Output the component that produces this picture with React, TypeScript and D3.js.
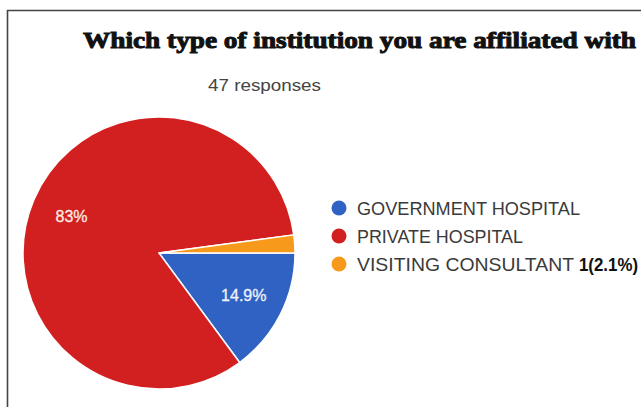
import React from "react";
import * as d3 from "d3";

const categories = ["GOVERNMENT HOSPITAL", "PRIVATE HOSPITAL", "VISITING CONSULTANT"];
const counts = [7, 39, 1];
const sliceLabels = ["14.9%", "83%", ""];
const colors = ["#2f62c2", "#d21f1f", "#f79a1c"];
const legendNote = ["", "", "1(2.1%)"];
const title = "Which type of institution you are affiliated with";
const subtitle = "47 responses";

const W = 641;
const H = 407;
// measured rendered widths of legend texts in the reference (layout only)
const LEGEND_TEXT_WIDTHS = [223, 166, 217];

export default function App() {
  const cx = 159;
  const cy = 253;
  const R = 136;
  const pie = d3
    .pie<number>()
    .sort(null)
    .value((d) => d)
    .startAngle(Math.PI / 2)
    .endAngle(Math.PI / 2 + 2 * Math.PI);
  const arcs = pie(counts);
  const arc = d3.arc<d3.PieArcDatum<number>>().innerRadius(0).outerRadius(R);
  const labelArc = d3.arc<d3.PieArcDatum<number>>().innerRadius(95).outerRadius(95);
  const legendY = d3.scalePoint<string>().domain(categories).range([208, 264]);

  return (
    <svg
      width={W}
      height={H}
      style={{ position: "absolute", left: 0, top: 0, background: "#fff" }}
    >
      <rect x={0} y={0} width={W} height={H} fill="#fff" />
      <path d={`M7.5,${H} V10.5 H${W}`} fill="none" stroke="#444" strokeWidth={1.6} />
      <text
        x={83}
        y={48}
        textLength={553}
        lengthAdjust="spacingAndGlyphs"
        fontFamily="'Liberation Serif', 'Times New Roman', serif"
        fontWeight="bold"
        fontSize={24}
        fill="#111"
        stroke="#111"
        strokeWidth={1}
      >
        {title}
      </text>
      <text
        x={208}
        y={91}
        textLength={113}
        lengthAdjust="spacingAndGlyphs"
        fontFamily="'Liberation Sans', Arial, sans-serif"
        fontSize={16}
        fill="#444"
      >
        {subtitle}
      </text>
      <g transform={`translate(${cx},${cy})`}>
        {arcs.map((a, i) => (
          <path key={i} d={arc(a) || ""} fill={colors[i]} stroke="#fff" strokeWidth={1.5} strokeLinejoin="round" />
        ))}
        {arcs.map((a, i) => {
          const [lx, ly] = labelArc.centroid(a);
          return sliceLabels[i] ? (
            <text
              key={"l" + i}
              x={lx}
              y={ly}
              dy="0.35em"
              textAnchor="middle"
              fontFamily="'Liberation Sans', Arial, sans-serif"
              fontSize={16}
              fill={i === 1 ? "#fdebe2" : "#eef2fb"}
              stroke={i === 1 ? "#fdebe2" : "#eef2fb"}
              strokeWidth={0.3}
            >
              {sliceLabels[i]}
            </text>
          ) : null;
        })}
      </g>
      {categories.map((c, i) => {
        const y = legendY(c) as number;
        return (
          <g key={c}>
            <circle cx={339} cy={y} r={7.5} fill={colors[i]} />
            <text
              x={357}
              y={y + 6.5}
              textLength={LEGEND_TEXT_WIDTHS[i]}
              lengthAdjust="spacingAndGlyphs"
              fontFamily="'Liberation Sans', Arial, sans-serif"
              fontSize={18}
              fill="#3a3a3a"
            >
              {c}
            </text>
          </g>
        );
      })}
      {categories.map((c, i) =>
        legendNote[i] ? (
          <text
            key={"n" + i}
            x={579}
            y={(legendY(c) as number) + 7}
            textLength={59}
            lengthAdjust="spacingAndGlyphs"
            fontFamily="'Liberation Sans', Arial, sans-serif"
            fontWeight="bold"
            fontSize={18}
            fill="#111"
          >
            {legendNote[i]}
          </text>
        ) : null
      )}
    </svg>
  );
}
